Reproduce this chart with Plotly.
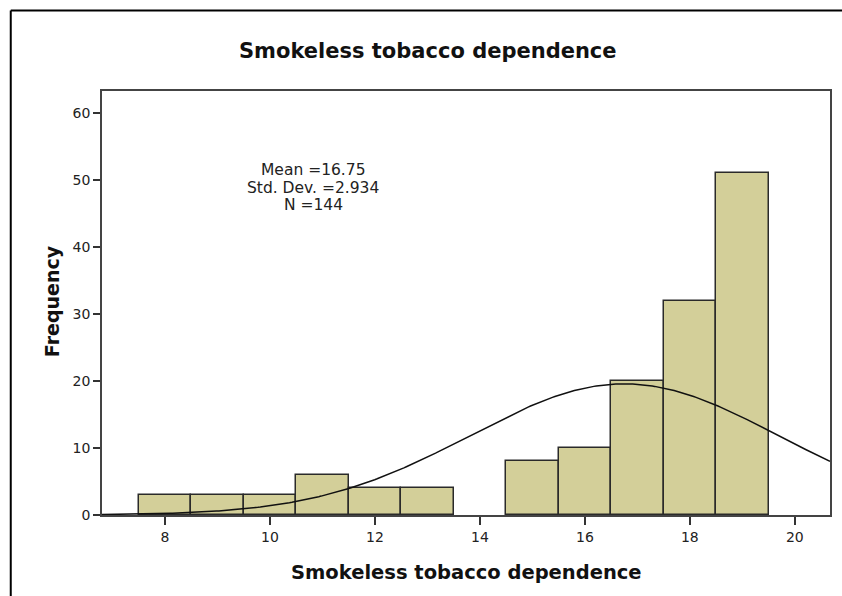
import numpy as np
import plotly.graph_objects as go

# Data
values = [8, 9, 10, 11, 12, 13, 14, 15, 16, 17, 18, 19]
frequencies = [3, 3, 3, 6, 4, 4, 0, 8, 10, 20, 32, 51]
mean_val = 16.75
std_dev = 2.934
n_total = 144
bin_width = 1.0
x_tick_vals = [8, 10, 12, 14, 16, 18, 20]
y_tick_vals = [0, 10, 20, 30, 40, 50, 60]
stats_lines = [f"Mean ={mean_val}", f"Std. Dev. ={std_dev}", f"N ={n_total}"]
chart_title = "Smokeless tobacco dependence"
x_title = "Smokeless tobacco dependence"
y_title = "Frequency"

x_range = [6.80, 20.67]
y_range = [0, 63.3]

W, H = 842, 596
ML, MR, MT, MB = 102, 10, 91, 81
PW, PH = W - ML - MR, H - MT - MB

def px_x(px):
    return (px - ML) / PW

def px_y(py):
    return 1 - (py - MT) / PH

# Normal curve fitted with the displayed mean / sd / N
xc = np.linspace(x_range[0], x_range[1], 300)
yc = n_total * bin_width * np.exp(-0.5 * ((xc - mean_val) / std_dev) ** 2) / (std_dev * np.sqrt(2 * np.pi))

bar_x = [v for v, f in zip(values, frequencies) if f > 0]
bar_y = [f for f in frequencies if f > 0]

fig = go.Figure()
fig.add_trace(go.Bar(
    x=bar_x, y=bar_y, width=bin_width,
    marker=dict(color="#D3CF99", line=dict(color="#2a2a2a", width=1.5)),
    hoverinfo="x+y", showlegend=False,
))
fig.add_trace(go.Scatter(
    x=xc, y=yc, mode="lines",
    line=dict(color="#111111", width=1.5),
    showlegend=False, hoverinfo="skip",
))

font_main = "DejaVu Sans, Verdana, sans-serif"

annotations = []
for i, line in enumerate(stats_lines):
    annotations.append(dict(
        x=px_x(314), y=px_y(170 + i * 17.5), xref="paper", yref="paper",
        text=line, showarrow=False, xanchor="center", yanchor="middle",
        font=dict(size=15.5, color="#222222", family=font_main),
    ))
annotations.append(dict(
    x=px_x(429), y=px_y(51), xref="paper", yref="paper",
    text=f"<b>{chart_title}</b>", showarrow=False,
    xanchor="center", yanchor="middle",
    font=dict(size=21, color="#111111", family=font_main),
))
annotations.append(dict(
    x=px_x(467), y=px_y(572), xref="paper", yref="paper",
    text=f"<b>{x_title}</b>", showarrow=False,
    xanchor="center", yanchor="middle",
    font=dict(size=19.5, color="#111111", family=font_main),
))
annotations.append(dict(
    x=px_x(52), y=px_y(301), xref="paper", yref="paper",
    text=f"<b>{y_title}</b>", showarrow=False, textangle=-90,
    xanchor="center", yanchor="middle",
    font=dict(size=19, color="#111111", family=font_main),
))

fig.update_layout(
    width=W, height=H,
    margin=dict(l=ML, r=MR, t=MT, b=MB),
    paper_bgcolor="white", plot_bgcolor="white",
    font=dict(family=font_main, color="#222222", size=13),
    bargap=0,
    xaxis=dict(
        range=x_range, tickmode="array", tickvals=x_tick_vals,
        ticks="outside", ticklen=8, tickwidth=1.5, tickcolor="#333333",
        showline=True, linecolor="#444444", linewidth=1.5, mirror=True,
        showgrid=False, zeroline=False,
        tickfont=dict(size=14, color="#222222"),
    ),
    yaxis=dict(
        range=y_range, tickmode="array", tickvals=y_tick_vals,
        ticks="outside", ticklen=7, tickwidth=1.5, tickcolor="#333333",
        showline=True, linecolor="#444444", linewidth=1.5, mirror=True,
        showgrid=False, zeroline=False,
        tickfont=dict(size=14, color="#222222"),
    ),
    annotations=annotations,
    shapes=[
        dict(type="line", xref="paper", yref="paper",
             x0=px_x(10.5), x1=px_x(10.5), y0=px_y(10.5), y1=px_y(H + 5),
             line=dict(color="black", width=2)),
        dict(type="line", xref="paper", yref="paper",
             x0=px_x(10.5), x1=px_x(W + 5), y0=px_y(10.5), y1=px_y(10.5),
             line=dict(color="black", width=2)),
    ],
)

fig.write_html(
    "out.html",
    config={"displayModeBar": False},
    post_script="document.body.style.margin='0';document.body.style.overflow='hidden';",
)
